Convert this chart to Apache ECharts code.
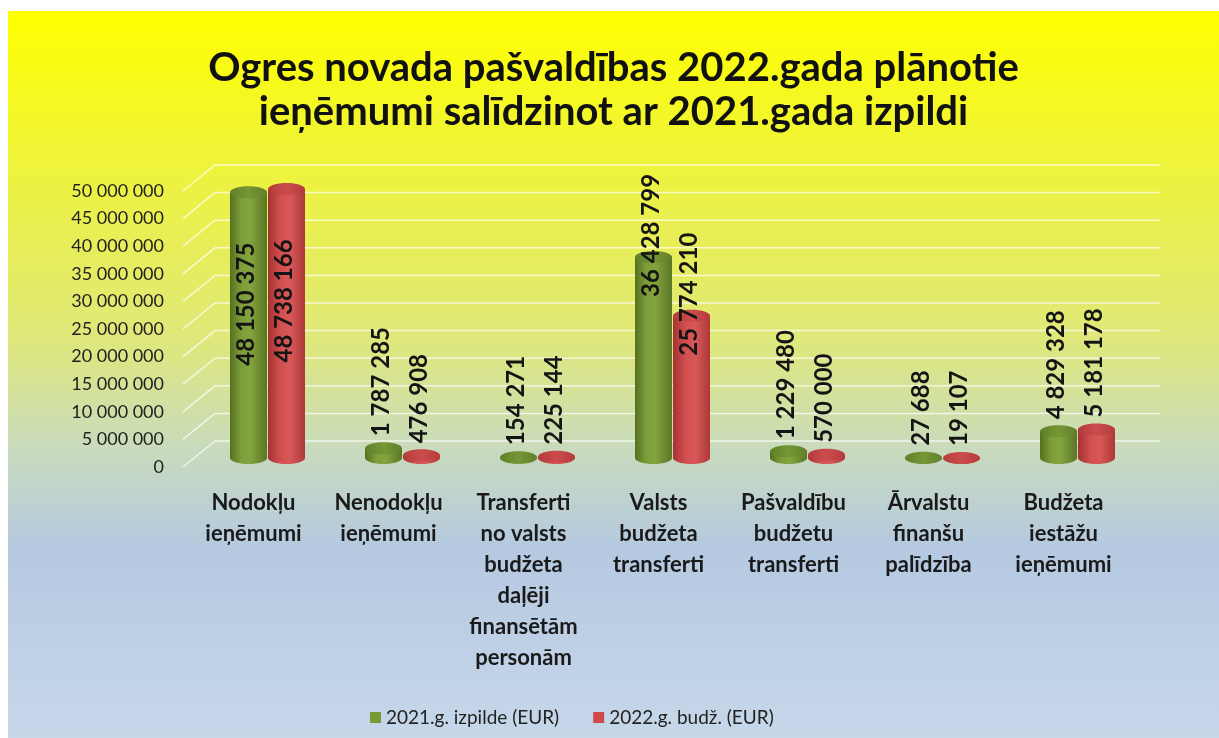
<!DOCTYPE html>
<html>
<head>
<meta charset="utf-8">
<script src="https://cdn.jsdelivr.net/npm/echarts@6/dist/echarts.min.js"></script>
<style>
  html, body { margin: 0; padding: 0; background: #fff; }
  #incomeChart {
    position: absolute;
    left: 8px;
    top: 11px;
    width: 1211px;
    height: 727px;
  }
</style>
</head>
<body>
<div id="incomeChart"></div>
<script>
const categories = [
  "Nodokļu\nieņēmumi",
  "Nenodokļu\nieņēmumi",
  "Transferti\nno valsts\nbudžeta\ndaļēji\nfinansētām\npersonām",
  "Valsts\nbudžeta\ntransferti",
  "Pašvaldību\nbudžetu\ntransferti",
  "Ārvalstu\nfinanšu\npalīdzība",
  "Budžeta\niestāžu\nieņēmumi"
];
const seriesNames = ["2021.g. izpilde (EUR)", "2022.g. budž. (EUR)"];
const values2021 = [48150375, 1787285, 154271, 36428799, 1229480, 27688, 4829328];
const values2022 = [48738166, 476908, 225144, 25774210, 570000, 19107, 5181178];
const yTicks = [0, 5000000, 10000000, 15000000, 20000000, 25000000, 30000000, 35000000, 40000000, 45000000, 50000000];

// how far the "3d" cylinders and back wall are pushed in
const DEPTH_X = 14, DEPTH_Y = -9;
const WALL_X = 32, WALL_Y = -26;
const K = 0.5523;

function fmt(v) {
  return String(v).replace(/\B(?=(\d{3})+(?!\d))/g, " ");
}

function ellipsePath(cx, cy, rx, ry) {
  return "M" + (cx - rx) + " " + cy +
    " C" + (cx - rx) + " " + (cy - K * ry) + " " + (cx - K * rx) + " " + (cy - ry) + " " + cx + " " + (cy - ry) +
    " C" + (cx + K * rx) + " " + (cy - ry) + " " + (cx + rx) + " " + (cy - K * ry) + " " + (cx + rx) + " " + cy +
    " C" + (cx + rx) + " " + (cy + K * ry) + " " + (cx + K * rx) + " " + (cy + ry) + " " + cx + " " + (cy + ry) +
    " C" + (cx - K * rx) + " " + (cy + ry) + " " + (cx - rx) + " " + (cy + K * ry) + " " + (cx - rx) + " " + cy + " Z";
}

function bodyPath(cx, yt, yb, rx, ry) {
  var x0 = cx - rx, x1 = cx + rx;
  return "M" + x0 + " " + yt + " L" + x0 + " " + yb +
    " C" + x0 + " " + (yb + K * ry) + " " + (cx - K * rx) + " " + (yb + ry) + " " + cx + " " + (yb + ry) +
    " C" + (cx + K * rx) + " " + (yb + ry) + " " + x1 + " " + (yb + K * ry) + " " + x1 + " " + yb +
    " L" + x1 + " " + yt + " Z";
}

function hGrad(stops) {
  return {
    type: "linear", x: 0, y: 0, x2: 1, y2: 0,
    colorStops: stops.map(function (c) { return { offset: c[0], color: c[1] }; })
  };
}

const palette = [
  {
    legend: "#7a9a38",
    body: hGrad([[0, "#55701f"], [0.3, "#7d9d3a"], [0.55, "#84a43f"], [1, "#5a7624"]]),
    top: hGrad([[0, "#60802a"], [0.5, "#769636"], [1, "#62802a"]])
  },
  {
    legend: "#d04848",
    body: hGrad([[0, "#a53232"], [0.35, "#d45050"], [0.6, "#d85858"], [1, "#ad3838"]]),
    top: hGrad([[0, "#b43c3c"], [0.5, "#cc4c4c"], [1, "#b43c3c"]])
  }
];

function cylinderRenderer(idx) {
  return function (params, api) {
    var cat = api.value(0), val = api.value(1);
    var base = api.coord([cat, 0]);
    var top = api.coord([cat, val]);
    var rx = 18.5, ry = 6;
    var cx = base[0] + DEPTH_X + (idx === 0 ? -19 : 19);
    var yb = base[1] + DEPTH_Y;
    var yt = top[1] + DEPTH_Y;

    var label;
    if (val >= 45000000) {
      label = { y: yt + 112, align: "center" };
    } else if (val >= 20000000) {
      label = { y: yt + 40, align: "left" };
    } else {
      label = { y: yt - 12, align: "left" };
    }

    return {
      type: "group",
      children: [
        { type: "path", shape: { pathData: bodyPath(cx, yt, yb, rx, ry) }, style: { fill: palette[idx].body } },
        { type: "path", shape: { pathData: ellipsePath(cx, yt, rx, ry) }, style: { fill: palette[idx].top } },
        {
          type: "text",
          x: cx - 2,
          y: label.y,
          rotation: Math.PI / 2,
          style: {
            text: fmt(val),
            font: "bold 24px Lato",
            fill: "#141414",
            align: label.align,
            verticalAlign: "middle"
          }
        }
      ]
    };
  };
}

var chart = echarts.init(document.getElementById("incomeChart"));
var option = {
  backgroundColor: {
    type: "linear", x: 0, y: 0, x2: 0, y2: 1,
    colorStops: [
      { offset: 0, color: "#ffff00" },
      { offset: 0.2, color: "#eff438" },
      { offset: 0.45, color: "#dfe87a" },
      { offset: 0.6, color: "#c9dbbc" },
      { offset: 0.74, color: "#b5c9e1" },
      { offset: 1, color: "#c7d7ea" }
    ]
  },
  title: {
    text: "Ogres novada pašvaldības 2022.gada plānotie\nieņēmumi salīdzinot ar 2021.gada izpildi",
    left: "center",
    top: 30,
    textStyle: {
      fontFamily: "Lato",
      fontWeight: "bold",
      fontSize: 40,
      lineHeight: 44,
      color: "#111"
    }
  },
  legend: {
    data: seriesNames,
    left: 357,
    top: 692,
    icon: "rect",
    itemWidth: 11,
    itemHeight: 11,
    itemGap: 34,
    textStyle: { fontFamily: "Lato", fontSize: 19, color: "#222" }
  },
  grid: { left: 178, right: 88, top: 180, bottom: 271 },
  xAxis: {
    type: "category",
    data: categories,
    axisLine: { show: false },
    axisTick: { show: false },
    axisLabel: {
      interval: 0,
      margin: 20,
      fontFamily: "Lato",
      fontWeight: "bold",
      fontSize: 22,
      lineHeight: 31,
      color: "#1a1a1a"
    }
  },
  yAxis: {
    type: "value",
    min: 0,
    max: 50000000,
    interval: 5000000,
    splitLine: { show: false },
    axisLine: { show: false },
    axisLabel: {
      margin: 22,
      fontFamily: "Lato",
      fontSize: 18,
      color: "#222",
      formatter: function (v) { return fmt(v); }
    }
  },
  series: [
    {
      type: "custom",
      name: "wall",
      silent: true,
      z: 1,
      data: yTicks.map(function (v) { return [0, v]; }),
      renderItem: function (params, api) {
        var v = api.value(1);
        var band = api.size([1, 0])[0];
        var p0 = api.coord([0, v]);
        var p1 = api.coord([categories.length - 1, v]);
        var xl = p0[0] - band / 2 - 3;
        var xr = p1[0] + band / 2 + 29;
        return {
          type: "polyline",
          shape: { points: [[xl, p0[1]], [xl + WALL_X, p0[1] + WALL_Y], [xr, p0[1] + WALL_Y]] },
          style: { stroke: "rgba(255,255,255,0.7)", lineWidth: 1.5, fill: null }
        };
      }
    },
    {
      type: "custom",
      name: seriesNames[0],
      z: 2,
      itemStyle: { color: palette[0].legend },
      data: values2021.map(function (v, i) { return [i, v]; }),
      renderItem: cylinderRenderer(0)
    },
    {
      type: "custom",
      name: seriesNames[1],
      z: 3,
      itemStyle: { color: palette[1].legend },
      data: values2022.map(function (v, i) { return [i, v]; }),
      renderItem: cylinderRenderer(1)
    }
  ]
};
chart.setOption(option);
</script>
</body>
</html>
